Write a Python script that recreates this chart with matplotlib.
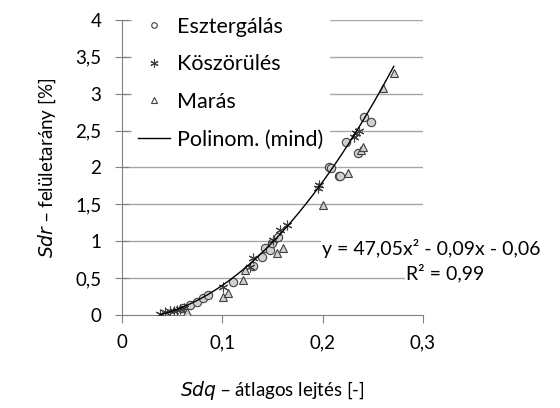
import matplotlib
matplotlib.use("Agg")
import matplotlib.pyplot as plt
import numpy as np
from matplotlib.lines import Line2D

plt.rcParams['font.family'] = ['Lato', 'DejaVu Sans']

# Esztergálás (circles)
eszt_x = [0.061, 0.068, 0.075, 0.081, 0.086, 0.111, 0.131, 0.140, 0.143, 0.148, 0.150, 0.156,
          0.206, 0.208, 0.216, 0.217, 0.223, 0.235, 0.241, 0.248]
eszt_y = [0.09, 0.14, 0.18, 0.23, 0.27, 0.45, 0.67, 0.79, 0.91, 0.88, 0.97, 1.06,
          2.00, 1.99, 1.88, 1.88, 2.35, 2.20, 2.68, 2.62]
# Köszörülés (stars)
kosz_x = [0.038, 0.043, 0.048, 0.052, 0.055, 0.058, 0.062, 0.101, 0.128, 0.131, 0.151, 0.158,
          0.165, 0.195, 0.196, 0.231, 0.233, 0.236]
kosz_y = [0.02, 0.04, 0.05, 0.06, 0.07, 0.08, 0.10, 0.38, 0.65, 0.77, 1.02, 1.15,
          1.22, 1.72, 1.76, 2.41, 2.47, 2.50]
# Marás (triangles)
maras_x = [0.065, 0.101, 0.106, 0.121, 0.123, 0.155, 0.161, 0.200, 0.225, 0.238, 0.240, 0.260, 0.271]
maras_y = [0.04, 0.25, 0.30, 0.47, 0.61, 0.84, 0.91, 1.49, 1.93, 2.24, 2.28, 3.08, 3.28]

# Polynomial fit coefficients (mind)
coef = [47.05, -0.09, -0.06]
fit_range = [0.038, 0.271]

xticks = [0, 0.1, 0.2, 0.3]
xtick_labels = ['0', '0,1', '0,2', '0,3']
yticks = [0, 0.5, 1, 1.5, 2, 2.5, 3, 3.5, 4]
ytick_labels = ['0', '0,5', '1', '1,5', '2', '2,5', '3', '3,5', '4']

fig = plt.figure(figsize=(5.6, 4.08), dpi=100)
ax = fig.add_axes([0.218, 0.228, 0.537, 0.723])
ax.set_xlim(0, 0.3)
ax.set_ylim(0, 4)

for y in yticks[1:]:
    ax.axhline(y, color='#a6a6a6', lw=1, zorder=0)

edge = '#404040'
ax.plot(eszt_x, eszt_y, 'o', ms=6, mfc='#d0d0d0', mec=edge, mew=0.8, zorder=3)
ax.plot(kosz_x, kosz_y, linestyle='none', marker=(6, 2, 0), ms=7, mec=edge, mew=0.8, zorder=3)
ax.plot(maras_x, maras_y, '^', ms=6, mfc='#d0d0d0', mec=edge, mew=0.8, zorder=3)
xs = np.linspace(fit_range[0], fit_range[1], 200)
ax.plot(xs, np.polyval(coef, xs), color='black', lw=1, zorder=4)

for s in ['top', 'right']:
    ax.spines[s].set_visible(False)
for s in ['left', 'bottom']:
    ax.spines[s].set_color('#808080')
ax.set_xticks(xticks)
ax.set_xticklabels(xtick_labels)
ax.set_yticks(yticks)
ax.set_yticklabels(ytick_labels)
ax.tick_params(axis='y', direction='inout', length=10, color='#808080', labelsize=13.5, pad=10)
ax.tick_params(axis='x', direction='out', length=6, color='#808080', labelsize=13.5, pad=8)

ax.set_xlabel(r'$\mathit{Sdq}$ – átlagos lejtés [-]', fontsize=13.5, labelpad=20)
ax.set_ylabel(r'$\mathit{Sdr}$ – felületarány [%]', fontsize=13.5, labelpad=12)

handles = [
    Line2D([], [], linestyle='none', marker='o', ms=4, mfc='white', mec=edge, mew=0.8),
    Line2D([], [], linestyle='none', marker=(6, 2, 0), ms=6, mec=edge, mew=0.8),
    Line2D([], [], linestyle='none', marker='^', ms=4, mfc='white', mec=edge, mew=0.8),
    Line2D([], [], color='black', lw=1),
]
leg = ax.legend(handles, ['Esztergálás', 'Köszörülés', 'Marás', 'Polinom. (mind)'],
                loc='upper left', bbox_to_anchor=(0.01, 1.055), fontsize=15.5, frameon=True,
                framealpha=1, edgecolor='white', fancybox=False, labelspacing=0.82,
                handlelength=1.5, handletextpad=0.3, borderaxespad=0.3, borderpad=0.3)
leg.set_zorder(5)

fig.text(0.77, 0.39, 'y = 47,05x² - 0,09x - 0,06', fontsize=14, ha='center', va='center',
         bbox=dict(facecolor='white', edgecolor='none', pad=1))
fig.text(0.865, 0.33, 'R² = 0,99', fontsize=14, ha='right', va='center',
         bbox=dict(facecolor='white', edgecolor='none', pad=1))

fig.savefig('out.png', dpi=100)
